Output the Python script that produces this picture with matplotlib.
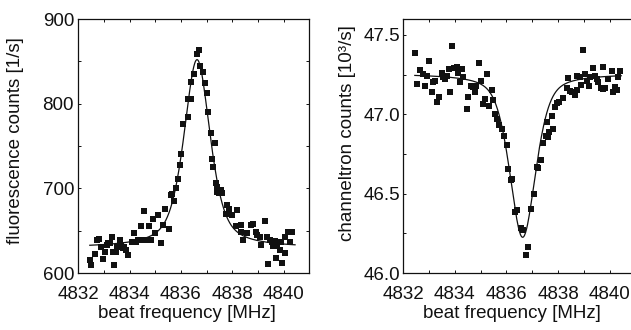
import numpy as np
import matplotlib
matplotlib.use('Agg')
import matplotlib.pyplot as plt
from matplotlib.ticker import MultipleLocator, FormatStrFormatter

# ==========================================
# 1. DATA
# ==========================================
# left panel: fluorescence counts [1/s]
fluo_freq = [4832.45, 4832.51, 4832.64, 4832.73, 4832.79, 4832.90, 4832.96, 4833.03,
             4833.12, 4833.16, 4833.22, 4833.33, 4833.35, 4833.41, 4833.48, 4833.52,
             4833.61, 4833.67, 4833.74, 4833.80, 4833.87, 4833.93, 4834.09, 4834.19,
             4834.26, 4834.32, 4834.45, 4834.51, 4834.58, 4834.64, 4834.77, 4834.84,
             4834.90, 4835.00, 4835.09, 4835.22, 4835.29, 4835.38, 4835.55, 4835.61,
             4835.66, 4835.74, 4835.81, 4835.87, 4835.97, 4836.02, 4836.10, 4836.28,
             4836.29, 4836.39, 4836.41, 4836.52, 4836.64, 4836.71, 4836.74, 4836.86,
             4836.94, 4837.03, 4837.07, 4837.16, 4837.22, 4837.26, 4837.33, 4837.36,
             4837.40, 4837.42, 4837.48, 4837.57, 4837.61, 4837.77, 4837.81, 4837.87,
             4837.98, 4838.13, 4838.17, 4838.33, 4838.35, 4838.43, 4838.58, 4838.74,
             4838.80, 4838.91, 4838.97, 4839.10, 4839.14, 4839.29, 4839.36, 4839.38,
             4839.49, 4839.55, 4839.58, 4839.66, 4839.71, 4839.74, 4839.88, 4839.91,
             4839.94, 4840.04, 4840.07, 4840.17, 4840.26, 4840.33]
fluo_counts = [615, 609, 623, 639, 640, 631, 617, 625,
               633, 635, 635, 643, 625, 609, 625, 631,
               639, 633, 629, 631, 627, 621, 637, 647,
               637, 639, 655, 639, 673, 639, 655, 639,
               664, 647, 668, 636, 657, 676, 652, 692,
               693, 685, 700, 711, 727, 740, 776, 784,
               806, 806, 826, 835, 859, 863, 845, 837,
               825, 813, 790, 765, 735, 725, 753, 706,
               696, 702, 695, 698, 695, 670, 680, 676,
               668, 655, 674, 657, 649, 639, 647, 657,
               658, 649, 645, 643, 633, 661, 643, 611,
               639, 637, 632, 638, 618, 632, 627, 637,
               612, 642, 624, 649, 637, 649]

# right panel: channeltron counts [10^3/s]
chan_freq = [4832.45, 4832.54, 4832.65, 4832.78, 4832.84, 4832.93, 4833.01, 4833.10,
             4833.16, 4833.23, 4833.32, 4833.40, 4833.49, 4833.55, 4833.62, 4833.68,
             4833.77, 4833.81, 4833.90, 4833.97, 4834.07, 4834.13, 4834.20, 4834.26,
             4834.33, 4834.46, 4834.52, 4834.61, 4834.69, 4834.78, 4834.84, 4834.95,
             4835.00, 4835.10, 4835.17, 4835.26, 4835.33, 4835.43, 4835.49, 4835.57,
             4835.64, 4835.72, 4835.81, 4835.91, 4836.01, 4836.07, 4836.16, 4836.20,
             4836.33, 4836.42, 4836.55, 4836.63, 4836.74, 4836.84, 4836.97, 4837.08,
             4837.17, 4837.23, 4837.33, 4837.43, 4837.53, 4837.56, 4837.62, 4837.66,
             4837.75, 4837.79, 4837.88, 4837.97, 4838.05, 4838.20, 4838.33, 4838.37,
             4838.46, 4838.55, 4838.66, 4838.72, 4838.73, 4838.85, 4838.91, 4838.98,
             4839.04, 4839.11, 4839.20, 4839.24, 4839.36, 4839.43, 4839.50, 4839.56,
             4839.66, 4839.75, 4839.75, 4839.84, 4839.95, 4840.08, 4840.14, 4840.21,
             4840.27, 4840.33, 4840.40]
chan_counts = [47.389, 47.191, 47.279, 47.254, 47.176, 47.243, 47.337, 47.142,
               47.201, 47.212, 47.080, 47.111, 47.257, 47.237, 47.222, 47.243,
               47.285, 47.142, 47.427, 47.289, 47.295, 47.260, 47.201, 47.285,
               47.237, 47.034, 47.107, 47.180, 47.170, 47.142, 47.180, 47.326,
               47.212, 47.065, 47.097, 47.254, 47.055, 47.155, 47.092, 47.000,
               46.971, 46.935, 46.908, 46.866, 46.808, 46.653, 46.584, 46.594,
               46.385, 46.395, 46.281, 46.270, 46.113, 46.165, 46.406, 46.500,
               46.667, 46.661, 46.714, 46.818, 46.866, 46.954, 46.856, 46.887,
               46.986, 46.908, 47.044, 47.069, 47.075, 47.100, 47.163, 47.228,
               47.149, 47.138, 47.122, 47.155, 47.243, 47.232, 47.185, 47.406,
               47.254, 47.212, 47.180, 47.232, 47.291, 47.243, 47.222, 47.201,
               47.163, 47.159, 47.295, 47.163, 47.222, 47.274, 47.138, 47.170,
               47.155, 47.232, 47.270]

# fitted line shapes (center, hwhm, amplitude, offset, lorentz fraction)
fluo_fit = (4836.63, 0.61, 222.0, 630.0, 0.6)
chan_fit = (4836.63, 0.60, -1.03, 47.255, 0.5)

x_ticks_labeled = [4832, 4834, 4836, 4838, 4840]


def pseudo_voigt(x, center, hwhm, amp, offset, eta):
    d = (x - center) / hwhm
    lor = 1.0 / (1.0 + d ** 2)
    gau = np.exp(-np.log(2) * d ** 2)
    return offset + amp * (eta * lor + (1 - eta) * gau)


# ==========================================
# 2. FIGURE
# ==========================================
plt.rcParams['font.family'] = ['Liberation Sans', 'DejaVu Sans']
plt.rcParams['font.size'] = 13.5
ink = '#111111'

fig = plt.figure(figsize=(6.31, 3.30), dpi=100)
ax1 = fig.add_axes([0.124, 0.1727, 0.366, 0.7697])
ax2 = fig.add_axes([0.639, 0.1727, 0.368, 0.7697])

x_fit = np.linspace(4832.45, 4840.45, 400)

panels = [
    (ax1, fluo_freq, fluo_counts, fluo_fit, (600, 900), 100, 50, '%d',
     'fluorescence counts [1/s]', (-0.235, 0.52), 3),
    (ax2, chan_freq, chan_counts, chan_fit, (46.0, 47.6), 0.5, 0.25, '%.1f',
     'channeltron counts [10³/s]', (-0.205, 0.55), 2),
]

for ax, fx, fy, fit, ylim, ymaj, ymin, fmt, ylab, ylab_xy, ypad in panels:
    ax.plot(fx, fy, 's', color=ink, ms=3.8, mew=0)
    ax.plot(x_fit, pseudo_voigt(x_fit, *fit), '-', color=ink, lw=0.9)

    ax.set_xlim(4832, 4841)
    ax.set_ylim(*ylim)
    ax.set_xticks(x_ticks_labeled)
    ax.xaxis.set_minor_locator(MultipleLocator(1))
    ax.yaxis.set_major_locator(MultipleLocator(ymaj))
    ax.yaxis.set_minor_locator(MultipleLocator(ymin))
    ax.yaxis.set_major_formatter(FormatStrFormatter(fmt))

    ax.tick_params(which='both', direction='in', top=True, right=True,
                   length=2.5, width=0.7, color=ink, labelcolor=ink)
    ax.tick_params(axis='x', which='major', pad=9)
    ax.tick_params(axis='y', which='major', pad=ypad)
    for s in ax.spines.values():
        s.set_linewidth(0.9)
        s.set_color(ink)

    ax.set_xlabel('beat frequency [MHz]', color=ink)
    ax.xaxis.set_label_coords(0.47, -0.125)
    ax.set_ylabel(ylab, color=ink)
    ax.yaxis.set_label_coords(*ylab_xy)

fig.savefig('out.png', dpi=100)
